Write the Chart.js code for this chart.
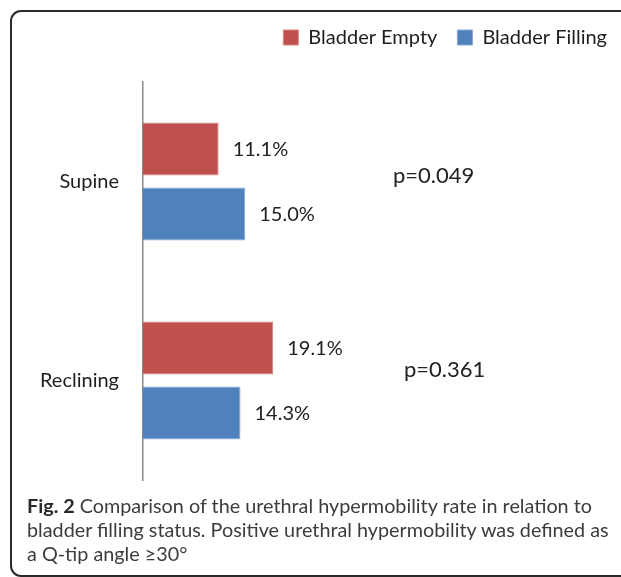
<!DOCTYPE html>
<html><head><meta charset="utf-8">
<script src="https://cdn.jsdelivr.net/npm/chart.js@4"></script>
<style>
html,body{margin:0;padding:0;background:#fff;overflow:hidden;width:621px;height:577px;}
#frame{position:absolute;left:10px;top:10px;width:700px;height:567px;box-sizing:border-box;border:2px solid #2a2a2a;border-radius:11px;}
#wrap{position:absolute;left:0;top:0;width:627px;height:516px;}
#caption{position:absolute;left:27px;top:493px;font-family:Lato;font-size:19.8px;line-height:24px;color:#3c3c3c;white-space:nowrap;}
#caption b{color:#2a2a2a}
</style></head>
<body>
<div id="frame"></div>
<div id="wrap"><canvas id="c"></canvas></div>
<div id="caption"><b>Fig. 2</b> Comparison of the urethral hypermobility rate in relation to<br>bladder filling status. Positive urethral hypermobility was defined as<br>a Q-tip angle ≥30°</div>
<script>
const categories = ['Supine', 'Reclining'];
const seriesNames = ['Bladder Empty', 'Bladder Filling'];
const bladderEmpty = [11.1, 19.1];
const bladderFilling = [15.0, 14.3];
const pValues = ['p=0.049', 'p=0.361'];

const P_DX = [250, 261];
const P_DY = [-6, -11];

const legendHeight = {
  id: 'legendHeight',
  beforeLayout(chart) {
    const lg = chart.legend;
    if (lg && !lg._patched) {
      const orig = lg.fit;
      lg.fit = function () { orig.call(this); this.height = 82 - 7.5; };
      lg._patched = true;
    }
  }
};

const valueLabels = {
  id: 'valueLabels',
  afterDatasetsDraw(chart) {
    const ctx = chart.ctx;
    ctx.save();
    ctx.fillStyle = '#222';
    ctx.textAlign = 'left';
    ctx.textBaseline = 'middle';
    ctx.font = '20px Lato';
    chart.data.datasets.forEach((ds, i) => {
      chart.getDatasetMeta(i).data.forEach((bar, j) => {
        ctx.fillText(ds.data[j].toFixed(1) + '%', bar.x + 14, bar.y + 1);
      });
    });
    ctx.font = '22px Lato';
    const ys = chart.scales.y;
    pValues.forEach((p, j) => {
      ctx.fillText(p, chart.chartArea.left + P_DX[j], ys.getPixelForValue(j) + P_DY[j]);
    });
    ctx.restore();
  }
};

new Chart(document.getElementById('c'), {
  type: 'bar',
  data: {
    labels: categories,
    datasets: [
      { label: seriesNames[0], data: bladderEmpty, backgroundColor: '#C0504D', borderColor: '#D58583', borderWidth: 1 },
      { label: seriesNames[1], data: bladderFilling, backgroundColor: '#4F81BD', borderColor: '#83A7D3', borderWidth: 1 }
    ]
  },
  options: {
    indexAxis: 'y',
    responsive: true,
    maintainAspectRatio: false,
    animation: false,
    devicePixelRatio: 1,
    categoryPercentage: 0.653,
    barPercentage: 0.815,
    layout: { padding: { top: 7.5, right: 0, bottom: 0, left: 0 } },
    plugins: {
      legend: {
        position: 'top',
        align: 'end',
        labels: { boxWidth: 15, boxHeight: 15, padding: 20, color: '#1e1e1e', font: { family: 'Lato', size: 20 } }
      },
      tooltip: { enabled: false }
    },
    scales: {
      x: { display: false, min: 0, max: 71 },
      y: {
        grid: { display: false, drawTicks: false },
        border: { display: true, color: '#8a8a8a', width: 1.5 },
        ticks: { padding: 24, color: '#1e1e1e', font: { family: 'Lato', size: 20 } },
        afterFit(scale) { scale.width = 143; }
      }
    }
  },
  plugins: [legendHeight, valueLabels]
});
</script>
</body></html>
